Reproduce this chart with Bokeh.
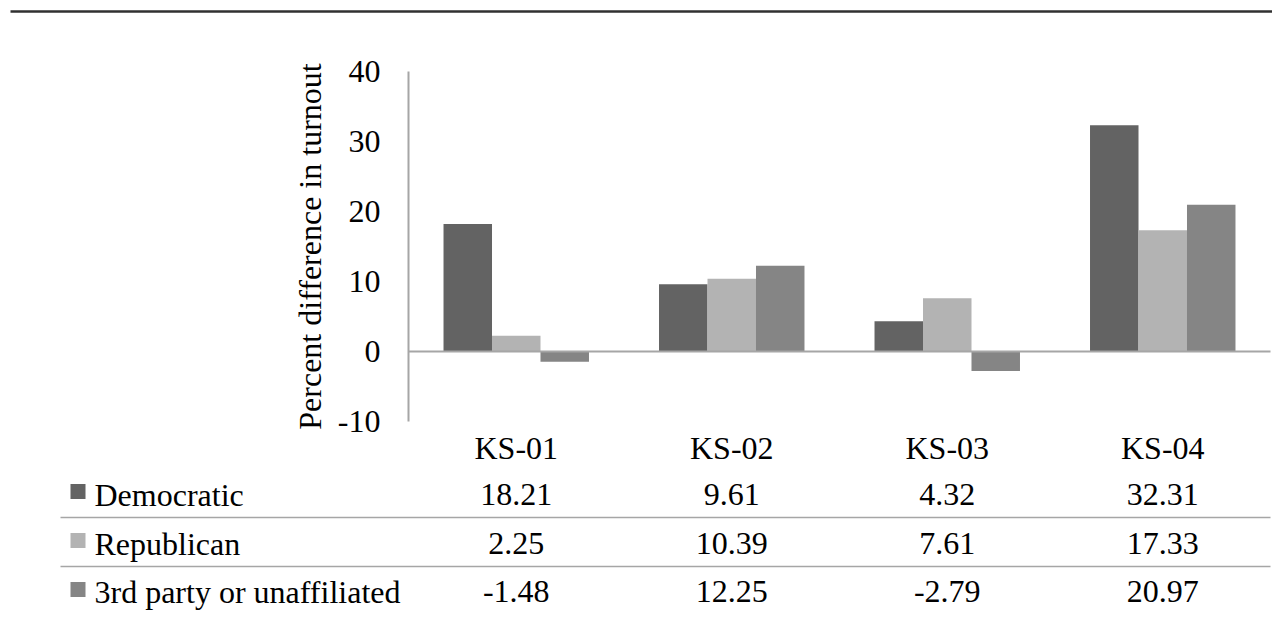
from bokeh.plotting import figure
from bokeh.models import ColumnDataSource, Range1d, FixedTicker, LinearAxis, PrintfTickFormatter
from bokeh.core.properties import value
from bokeh.embed import file_html
from bokeh.resources import INLINE

# ---- data -------------------------------------------------------------
districts = ["KS-01", "KS-02", "KS-03", "KS-04"]
democratic = [18.21, 9.61, 4.32, 32.31]
republican = [2.25, 10.39, 7.61, 17.33]
third_party = [-1.48, 12.25, -2.79, 20.97]
series_names = ["Democratic", "Republican", "3rd party or unaffiliated"]
y_ticks = [-10, 0, 10, 20, 30, 40]
y_label = "Percent difference in turnout"

# ---- style / layout (pixels) ------------------------------------------
FONT = "Liberation Serif"
FS = "32px"
TEXT_COLOR = "#000000"
series_colors = ["#636363", "#b3b3b3", "#858585"]
GRID_GRAY = "#a6a6a6"

W, H = 1272, 629
PLOT_L, PLOT_R = 408, 1270          # chart area, horizontal
PLOT_T, PLOT_B = 71, 421            # chart area, vertical
BAR_W = 0.225                       # bar width in category units

n_cat = len(districts)
cat_px = (PLOT_R - PLOT_L) / n_cat
val_px = (PLOT_B - PLOT_T) / (y_ticks[-1] - y_ticks[0])

# main ranges: x in category units (category i spans [i, i+1]), y in values
x_range = Range1d(-PLOT_L / cat_px, n_cat + (W - PLOT_R) / cat_px)
y_range = Range1d(y_ticks[0] - (H - PLOT_B) / val_px, y_ticks[-1] + PLOT_T / val_px)

p = figure(width=W, height=H, x_range=x_range, y_range=y_range,
           x_axis_location=None, y_axis_location=None, min_border=0,
           output_backend="svg", toolbar_location=None)
p.grid.visible = False
p.outline_line_color = None
p.background_fill_color = "white"
p.border_fill_color = "white"

# pixel-based ranges for the rule, data table and legend
p.extra_x_ranges = {"px": Range1d(0, W)}
p.extra_y_ranges = {"py": Range1d(H, 0)}

# ---- top rule ---------------------------------------------------------
p.segment(x0=[10], y0=[11], x1=[W], y1=[11], line_color="#303030", line_width=2.5,
          x_range_name="px", y_range_name="py")

# ---- bars -------------------------------------------------------------
for k, (vals, color) in enumerate(zip([democratic, republican, third_party], series_colors)):
    src = ColumnDataSource(dict(x=[i + 0.5 + (k - 1) * BAR_W for i in range(n_cat)], top=vals))
    p.vbar(x="x", top="top", bottom=0, width=BAR_W, source=src,
           fill_color=color, line_color=None)

# zero line across the chart area
p.segment(x0=[0], y0=[0], x1=[n_cat], y1=[0], line_color=GRID_GRAY, line_width=2)

# ---- y axis -----------------------------------------------------------
ax = LinearAxis(fixed_location=0, bounds=(y_ticks[0], y_ticks[-1]))
ax.ticker = FixedTicker(ticks=y_ticks)
ax.formatter = PrintfTickFormatter(format="%d")
ax.axis_label = y_label
ax.axis_label_text_font = FONT
ax.axis_label_text_font_size = FS
ax.axis_label_text_font_style = "normal"
ax.axis_label_text_color = TEXT_COLOR
ax.axis_label_standoff = 7
ax.major_label_text_font = FONT
ax.major_label_text_font_size = FS
ax.major_label_text_color = TEXT_COLOR
ax.major_label_standoff = 28
ax.major_tick_line_color = None
ax.major_tick_out = 0
ax.major_tick_in = 0
ax.minor_tick_line_color = None
ax.minor_tick_out = 0
ax.minor_tick_in = 0
ax.axis_line_color = GRID_GRAY
ax.axis_line_width = 2
p.add_layout(ax, "left")

# ---- data table -------------------------------------------------------
HEADER_Y = 447
ROW_Y = [494, 543, 591]
LINE_Y = [517, 566]
SWATCH_Y = [491, 540, 589]

header_src = ColumnDataSource(dict(x=[i + 0.5 for i in range(n_cat)], text=districts))
p.text(x="x", y=HEADER_Y, text="text", source=header_src, text_font=value(FONT),
       text_font_size=FS, text_color=TEXT_COLOR, text_align="center", text_baseline="middle",
       y_range_name="py")

for ry, vals in zip(ROW_Y, [democratic, republican, third_party]):
    row_src = ColumnDataSource(dict(x=[i + 0.5 for i in range(n_cat)],
                                    text=[f"{v:.2f}" for v in vals]))
    p.text(x="x", y=ry, text="text", source=row_src, text_font=value(FONT),
           text_font_size=FS, text_color=TEXT_COLOR, text_align="center",
           text_baseline="middle", y_range_name="py")

p.segment(x0=[60] * len(LINE_Y), y0=LINE_Y, x1=[PLOT_R] * len(LINE_Y), y1=LINE_Y,
          line_color=GRID_GRAY, line_width=1.5, x_range_name="px", y_range_name="py")

# legend keys and series names in the first table column
p.scatter(x=[77.5] * len(series_names), y=SWATCH_Y, marker="square", size=15,
          fill_color=series_colors, line_color=None, x_range_name="px", y_range_name="py")
p.text(x=[94] * len(series_names), y=ROW_Y, text=series_names, text_font=value(FONT),
       text_font_size=FS, text_color=TEXT_COLOR, text_align="left", text_baseline="middle",
       x_range_name="px", y_range_name="py")

open("out.html", "w").write(file_html(p, INLINE))
